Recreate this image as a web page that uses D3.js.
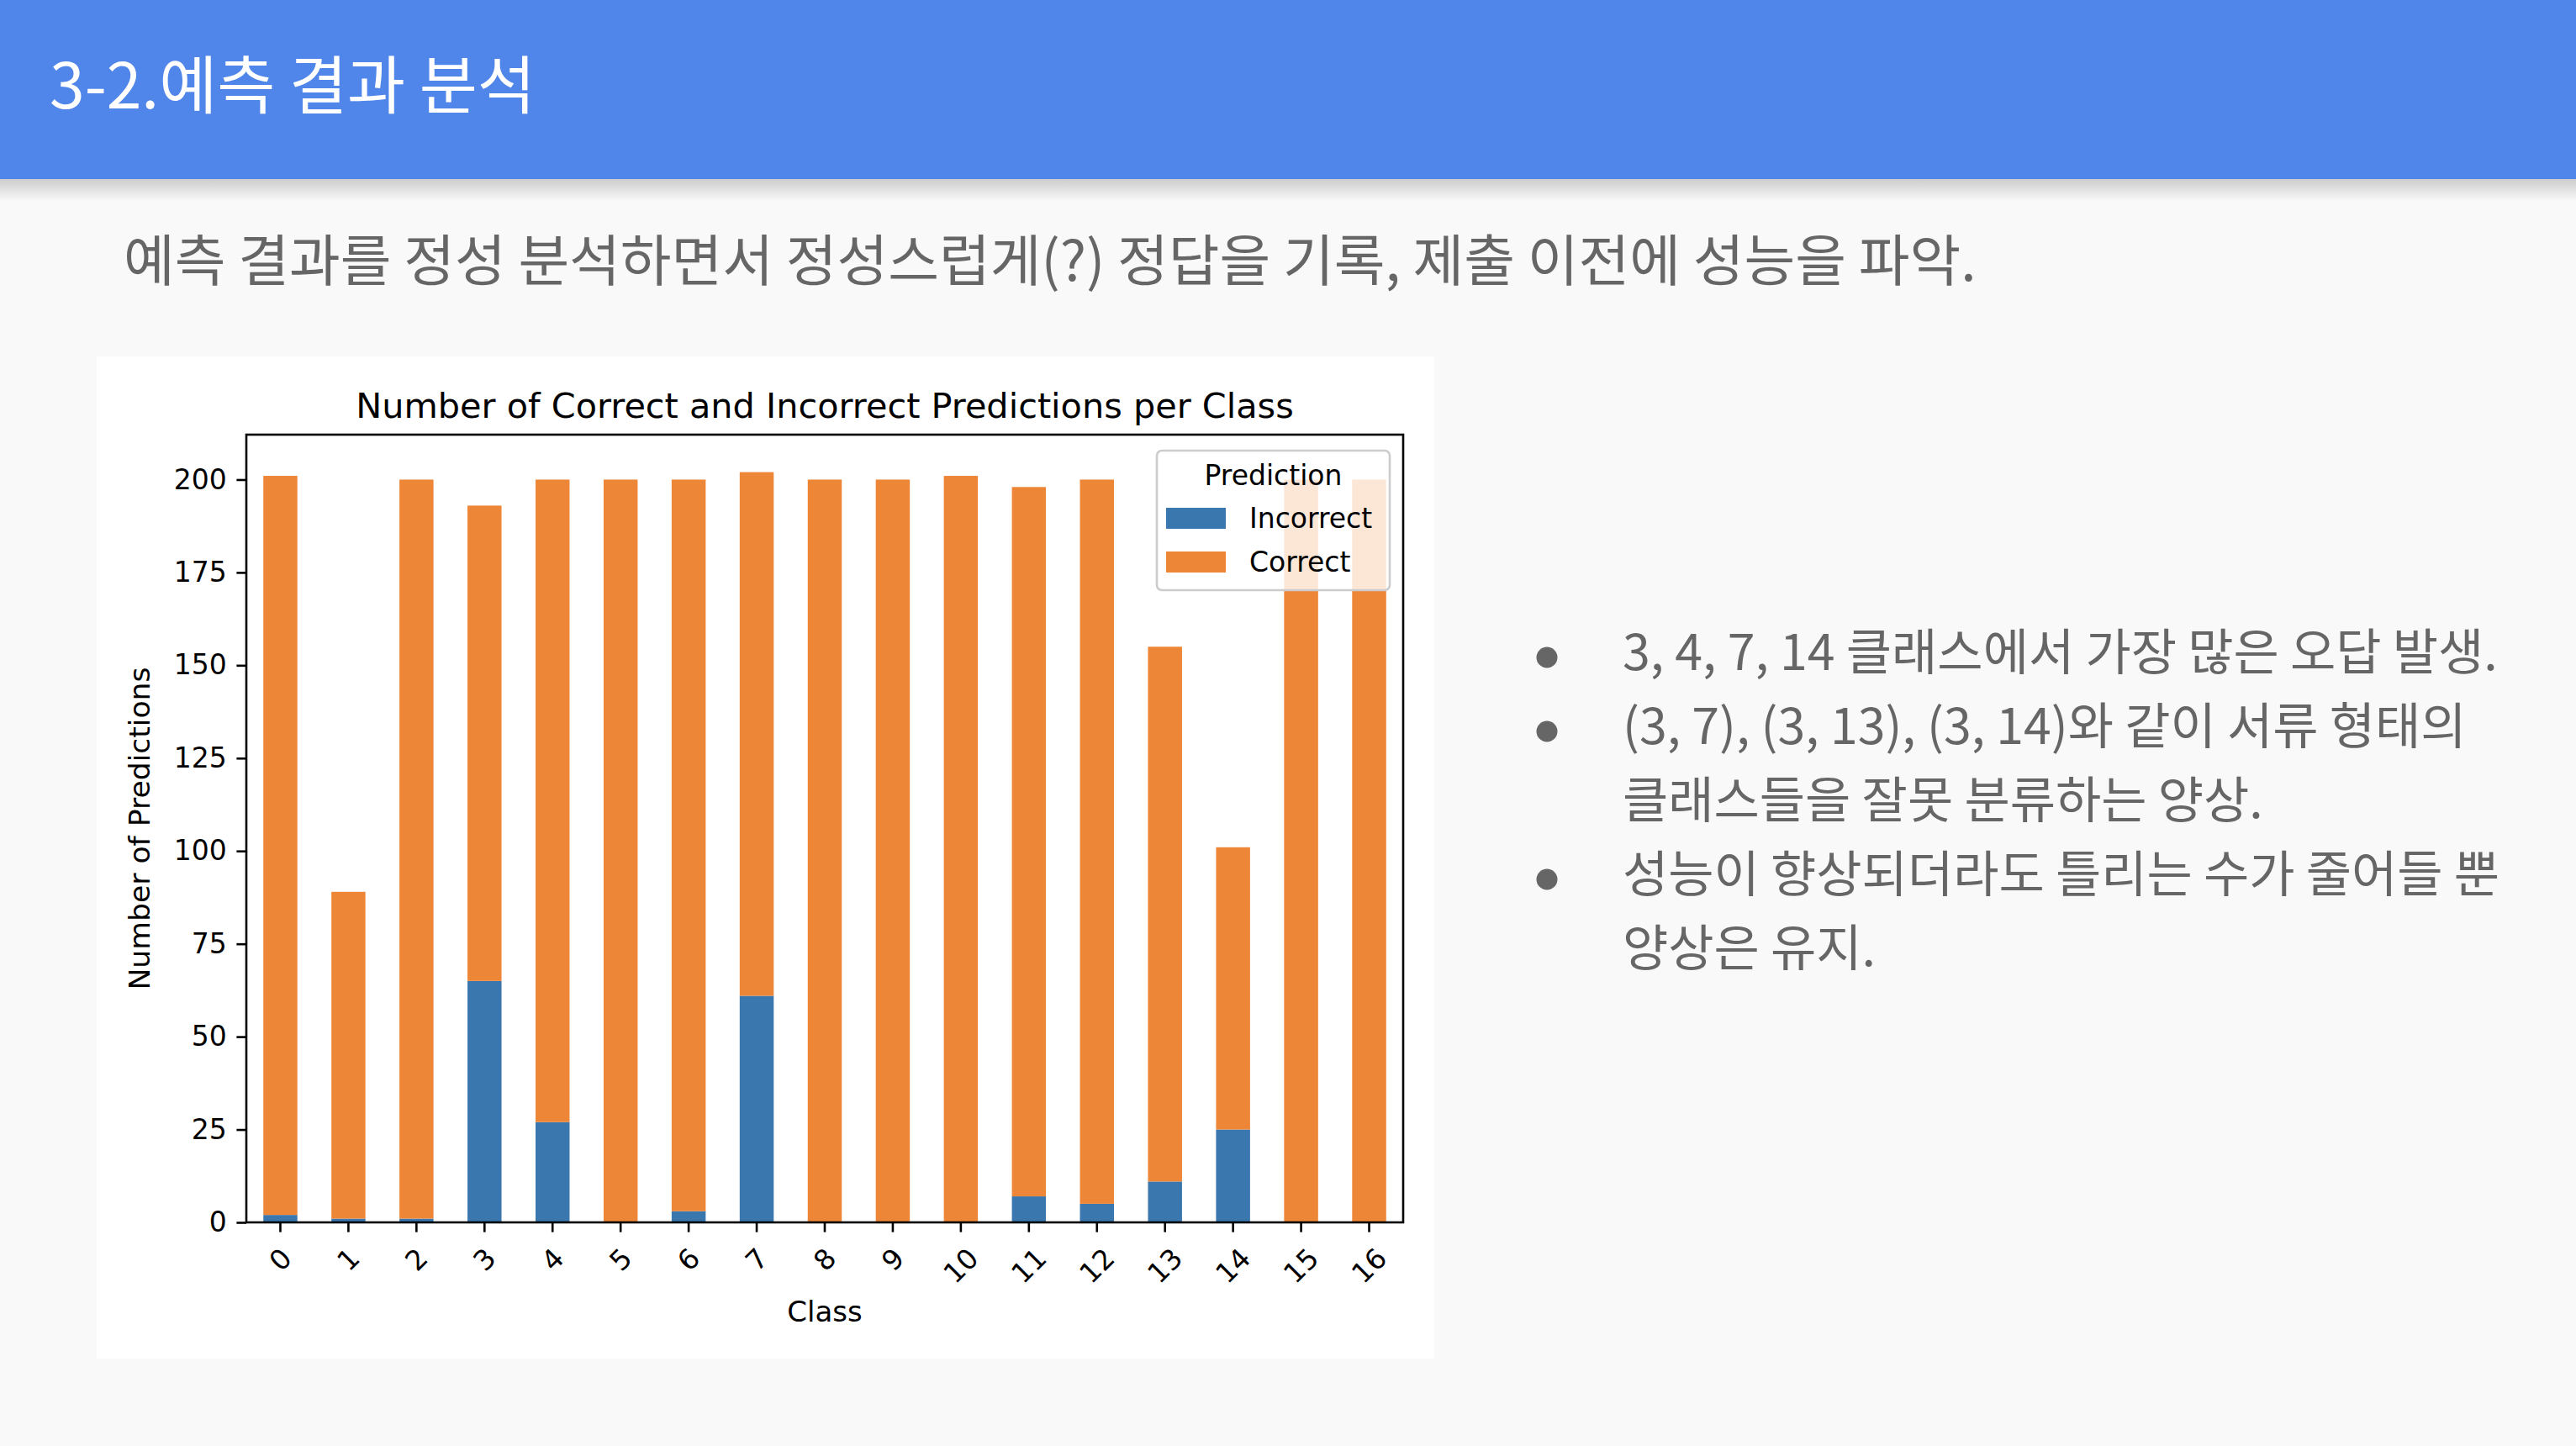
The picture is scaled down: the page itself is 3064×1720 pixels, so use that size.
<!DOCTYPE html>
<html>
<head>
<meta charset="utf-8">
<script src="https://cdn.jsdelivr.net/npm/d3@7"></script>
<style>
    body { margin: 0; background: #f9f9f9; }
    svg { display: block; }
</style>
</head>
<body>
<svg id="slide" width="3064" height="1720"></svg>
<script>
// Chart data
var classLabels = ["0", "1", "2", "3", "4", "5", "6", "7", "8", "9", "10", "11", "12", "13", "14", "15", "16"];
var incorrectCounts = [2, 1, 1, 65, 27, 0, 3, 61, 0, 0, 0, 7, 5, 11, 25, 0, 0];
var correctCounts = [199, 88, 199, 128, 173, 200, 197, 141, 200, 200, 201, 191, 195, 144, 76, 200, 200];
var seriesNames = ["Incorrect", "Correct"];
var yTickValues = [0, 25, 50, 75, 100, 125, 150, 175, 200];

var slideTitle = "3-2.예측 결과 분석";
var subTitle = "예측 결과를 정성 분석하면서 정성스럽게(?) 정답을 기록, 제출 이전에 성능을 파악.";
var bulletLines = [
    { bullet: true, text: "3, 4, 7, 14 클래스에서 가장 많은 오답 발생." },
    { bullet: true, text: "(3, 7), (3, 13), (3, 14)와 같이 서류 형태의" },
    { bullet: false, text: "클래스들을 잘못 분류하는 양상." },
    { bullet: true, text: "성능이 향상되더라도 틀리는 수가 줄어들 뿐" },
    { bullet: false, text: "양상은 유지." }
];

(function()
{
    "use strict";

    var svg = d3.select("#slide");
    var KO_FONT = "'Noto Sans CJK KR', 'Noto Sans', sans-serif";
    var MPL_FONT = "'DejaVu Sans', sans-serif";
    var colors = { Incorrect: "#3a77af", Correct: "#ee8638" };

    // ---- slide header ----
    var defs = svg.append("defs");
    var grad = defs.append("linearGradient")
        .attr("id", "headerShadow")
        .attr("x1", 0).attr("y1", 0).attr("x2", 0).attr("y2", 1);
    grad.append("stop").attr("offset", "0%").attr("stop-color", "#000").attr("stop-opacity", 0.18);
    grad.append("stop").attr("offset", "100%").attr("stop-color", "#000").attr("stop-opacity", 0);

    svg.append("rect")
        .attr("x", 0).attr("y", 213)
        .attr("width", 3064).attr("height", 26)
        .attr("fill", "url(#headerShadow)");

    svg.append("rect")
        .attr("x", 0).attr("y", 0)
        .attr("width", 3064).attr("height", 213)
        .attr("fill", "#5086e9");

    svg.append("text")
        .attr("x", 59).attr("y", 129)
        .attr("font-family", KO_FONT)
        .attr("font-size", 75)
        .attr("fill", "#ffffff")
        .text(slideTitle);

    svg.append("text")
        .attr("x", 147).attr("y", 334)
        .attr("font-family", KO_FONT)
        .attr("font-size", 66)
        .attr("fill", "#666666")
        .text(subTitle);

    // ---- bullet list on the right ----
    var LINE_STEP = 88;
    var bullets = svg.append("g");
    bulletLines.forEach(function(d, i)
    {
        var baseY = 797 + i * LINE_STEP;
        if (d.bullet)
        {
            bullets.append("circle")
                .attr("cx", 1840).attr("cy", baseY - 15)
                .attr("r", 12.5)
                .attr("fill", "#666666");
        }
        bullets.append("text")
            .attr("x", 1930).attr("y", baseY)
            .attr("font-family", KO_FONT)
            .attr("font-size", 59)
            .attr("fill", "#666666")
            .text(d.text);
    });

    // ---- chart panel (matplotlib figure) ----
    svg.append("rect")
        .attr("x", 115).attr("y", 424)
        .attr("width", 1591).attr("height", 1192)
        .attr("fill", "#ffffff");

    var plot = { left: 293, right: 1669, top: 517, bottom: 1454 };
    const FONT_SIZE = 33;
    const TICK_LEN = 11.6;
    const TICK_PAD = 11.6;

    var rows = classLabels.map(function(c, i)
    {
        return { cls: c, Incorrect: incorrectCounts[i], Correct: correctCounts[i] };
    });
    var stacked = d3.stack().keys(seriesNames)(rows);

    var x = d3.scaleBand()
        .domain(classLabels)
        .range([plot.left, plot.right])
        .paddingInner(0.5)
        .paddingOuter(0.25);

    var yMax = d3.max(rows, function(d) { return d.Incorrect + d.Correct; }) * 1.05;
    var y = d3.scaleLinear()
        .domain([0, yMax])
        .range([plot.bottom, plot.top]);

    // Draw stacked bars
    svg.append("g")
        .selectAll("g")
        .data(stacked)
        .enter().append("g")
            .attr("fill", function(s) { return colors[s.key]; })
            .selectAll("rect")
            .data(function(s) { return s; })
            .enter().append("rect")
                .attr("x", function(d) { return x(d.data.cls); })
                .attr("y", function(d) { return y(d[1]); })
                .attr("width", x.bandwidth())
                .attr("height", function(d) { return y(d[0]) - y(d[1]); });

    // Y axis
    var yAxis = svg.append("g")
        .attr("transform", "translate(" + plot.left + ",0)")
        .call(d3.axisLeft(y).tickValues(yTickValues).tickSize(TICK_LEN).tickPadding(TICK_PAD));
    yAxis.select(".domain").remove();
    yAxis.selectAll(".tick line").attr("stroke", "#000").attr("stroke-width", 2.6);
    yAxis.selectAll(".tick text")
        .attr("font-family", MPL_FONT)
        .attr("font-size", FONT_SIZE)
        .attr("fill", "#000");

    // X axis with 45 degree labels
    var xAxis = svg.append("g")
        .attr("transform", "translate(0," + plot.bottom + ")")
        .call(d3.axisBottom(x).tickSize(TICK_LEN).tickFormat(""));
    xAxis.select(".domain").remove();
    xAxis.selectAll(".tick line").attr("stroke", "#000").attr("stroke-width", 2.6);

    var xLabels = svg.append("g");
    classLabels.forEach(function(c)
    {
        var t = xLabels.append("text")
            .attr("font-family", MPL_FONT)
            .attr("font-size", FONT_SIZE)
            .attr("text-anchor", "middle")
            .attr("dominant-baseline", "central")
            .text(c);
        var w = t.node().getComputedTextLength();
        var h = FONT_SIZE * 1.16;
        var cx = x(c) + x.bandwidth() / 2;
        var cy = plot.bottom + TICK_LEN + TICK_PAD + (w + h) / (2 * Math.SQRT2);
        t.attr("transform", "translate(" + cx + "," + cy + ") rotate(-45)");
    });

    // Frame around the axes
    svg.append("rect")
        .attr("x", plot.left).attr("y", plot.top)
        .attr("width", plot.right - plot.left)
        .attr("height", plot.bottom - plot.top)
        .attr("fill", "none")
        .attr("stroke", "#000")
        .attr("stroke-width", 2.6);

    // Titles
    svg.append("text")
        .attr("x", (plot.left + plot.right) / 2).attr("y", plot.top - 20)
        .attr("text-anchor", "middle")
        .attr("font-family", MPL_FONT)
        .attr("font-size", 41.4)
        .text("Number of Correct and Incorrect Predictions per Class");

    svg.append("text")
        .attr("x", (plot.left + plot.right) / 2).attr("y", 1572)
        .attr("text-anchor", "middle")
        .attr("font-family", MPL_FONT)
        .attr("font-size", 34)
        .text("Class");

    svg.append("text")
        .attr("transform", "translate(178," + ((plot.top + plot.bottom) / 2) + ") rotate(-90)")
        .attr("text-anchor", "middle")
        .attr("font-family", MPL_FONT)
        .attr("font-size", 34.6)
        .text("Number of Predictions");

    // Legend (upper right, semi transparent frame)
    var legend = svg.append("g").attr("transform", "translate(1376,536)");
    legend.append("rect")
        .attr("width", 277).attr("height", 166)
        .attr("rx", 6).attr("ry", 6)
        .attr("fill", "#ffffff").attr("fill-opacity", 0.8)
        .attr("stroke", "#cccccc").attr("stroke-width", 2.6);
    legend.append("text")
        .attr("x", 138.5).attr("y", 41)
        .attr("text-anchor", "middle")
        .attr("font-family", MPL_FONT)
        .attr("font-size", FONT_SIZE)
        .text("Prediction");
    seriesNames.forEach(function(name, i)
    {
        legend.append("rect")
            .attr("x", 11).attr("y", 68 + i * 52)
            .attr("width", 71).attr("height", 25)
            .attr("fill", colors[name]);
        legend.append("text")
            .attr("x", 110).attr("y", 92 + i * 52)
            .attr("font-family", MPL_FONT)
            .attr("font-size", FONT_SIZE)
            .text(name);
    });
})();
</script>
</body>
</html>
